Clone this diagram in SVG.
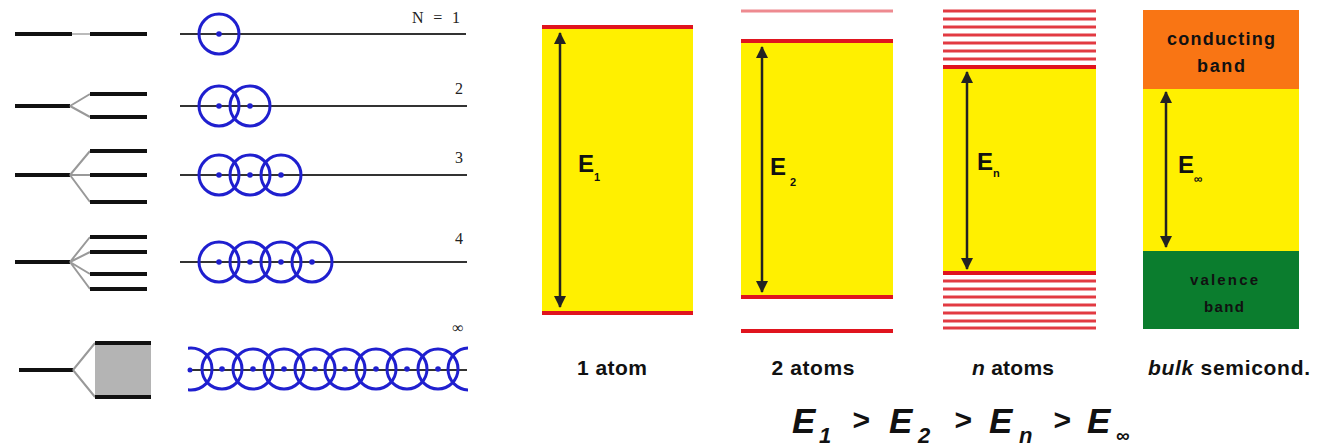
<svg xmlns="http://www.w3.org/2000/svg" width="1324" height="447" viewBox="0 0 1324 447">
<style>
.lv{stroke:#111;stroke-width:4;fill:none}
.br{stroke:#999;stroke-width:2;fill:none}
.ax{stroke:#333;stroke-width:2}
.at{fill:none;stroke:#1f1fcf;stroke-width:3}
.dt{fill:#1f1fcf}
.num{font-family:"Liberation Serif",serif;font-size:16px;fill:#222}
.red{stroke:#e0141e;stroke-width:4}
.str{stroke:#e23a42;stroke-width:3}
.yel{fill:#fff000}
.lab{font-family:"Liberation Sans",Arial,sans-serif;font-weight:bold;fill:#111}
.arr{stroke:#222;stroke-width:2.5;fill:none}
</style>
<defs>
<marker id="ah" viewBox="0 0 12 12" refX="11" refY="6" markerWidth="12" markerHeight="12" markerUnits="userSpaceOnUse" orient="auto-start-reverse">
<path d="M0,0 L12,6 L0,12 z" fill="#222"/>
</marker>
<clipPath id="cl"><rect x="188" y="340" width="280" height="60"/></clipPath>
<g id="c"><circle r="20" class="at"/><circle r="2.8" class="dt"/></g>
</defs>
<rect width="1324" height="447" fill="#fff"/>

<g id="row1">
<line class="lv" x1="15" y1="34" x2="72" y2="34"/>
<line x1="72" y1="34" x2="90" y2="34" stroke="#bbb" stroke-width="2"/>
<line class="lv" x1="90" y1="34" x2="147" y2="34"/>
<line class="ax" x1="180" y1="34" x2="466" y2="34"/>
<use href="#c" x="219" y="34"/>
<text class="num" x="460" y="23" text-anchor="end" textLength="48">N = 1</text>
</g>

<g id="row2">
<line class="lv" x1="15" y1="106" x2="70" y2="106"/>
<path class="br" d="M70,106 L90,94 M70,106 L90,117"/>
<line class="lv" x1="90" y1="94" x2="147" y2="94"/>
<line class="lv" x1="90" y1="117" x2="147" y2="117"/>
<line class="ax" x1="180" y1="106" x2="467" y2="106"/>
<use href="#c" x="219" y="106"/>
<use href="#c" x="250" y="106"/>
<text class="num" x="463" y="94" text-anchor="end">2</text>
</g>

<g id="row3">
<line class="lv" x1="15" y1="175" x2="70" y2="175"/>
<path class="br" d="M70,175 L90,151 M70,175 L90,175 M70,175 L90,202"/>
<line class="lv" x1="90" y1="151" x2="147" y2="151"/>
<line class="lv" x1="90" y1="175" x2="147" y2="175"/>
<line class="lv" x1="90" y1="202" x2="147" y2="202"/>
<line class="ax" x1="180" y1="175" x2="467" y2="175"/>
<use href="#c" x="219" y="175"/>
<use href="#c" x="250" y="175"/>
<use href="#c" x="281" y="175"/>
<text class="num" x="463" y="163" text-anchor="end">3</text>
</g>

<g id="row4">
<line class="lv" x1="15" y1="262" x2="70" y2="262"/>
<path class="br" d="M70,262 L90,237 M70,262 L90,252 M70,262 L90,274 M70,262 L90,289"/>
<line class="lv" x1="90" y1="237" x2="147" y2="237"/>
<line class="lv" x1="90" y1="252" x2="147" y2="252"/>
<line class="lv" x1="90" y1="274" x2="147" y2="274"/>
<line class="lv" x1="90" y1="289" x2="147" y2="289"/>
<line class="ax" x1="180" y1="262" x2="467" y2="262"/>
<use href="#c" x="219" y="262"/>
<use href="#c" x="250" y="262"/>
<use href="#c" x="281" y="262"/>
<use href="#c" x="312" y="262"/>
<text class="num" x="463" y="244" text-anchor="end">4</text>
</g>

<g id="row5">
<line class="lv" x1="19" y1="370" x2="73" y2="370"/>
<path class="br" d="M73,370 L95,343 M73,370 L95,397"/>
<rect x="95" y="343" width="56" height="54" fill="#b4b4b4"/>
<line class="lv" x1="95" y1="343" x2="151" y2="343"/>
<line class="lv" x1="95" y1="397" x2="151" y2="397"/>
<line class="ax" x1="190" y1="370" x2="467" y2="370"/>
<circle cx="190" cy="370" r="2.5" class="dt"/>
<g clip-path="url(#cl)">
<circle cx="191" cy="369" r="21" class="at"/>
<use href="#c" x="222" y="369"/>
<use href="#c" x="253" y="369"/>
<use href="#c" x="284" y="369"/>
<use href="#c" x="315" y="369"/>
<use href="#c" x="345" y="369"/>
<use href="#c" x="376" y="369"/>
<use href="#c" x="407" y="369"/>
<use href="#c" x="438" y="369"/>
<circle cx="469" cy="369" r="21" class="at"/>
</g>
<text class="num" x="458" y="333" text-anchor="middle" font-size="15">∞</text>
</g>

<g id="atom1">
<rect class="yel" x="542" y="27" width="151" height="286"/>
<line class="red" x1="542" y1="27" x2="693" y2="27"/>
<line class="red" x1="542" y1="313" x2="693" y2="313"/>
<text class="lab" x="578" y="172" font-size="24">E<tspan font-size="11" dy="9">1</tspan></text>
<text class="lab" x="612" y="375" font-size="21" text-anchor="middle" textLength="70">1 atom</text>
</g>

<g id="atoms2">
<line x1="741" y1="11" x2="893" y2="11" stroke="#ee8a90" stroke-width="3"/>
<rect class="yel" x="741" y="41" width="152" height="256"/>
<line class="red" x1="741" y1="41" x2="893" y2="41"/>
<line class="red" x1="741" y1="297" x2="893" y2="297"/>
<line class="red" x1="741" y1="331" x2="893" y2="331"/>
<text class="lab" x="770" y="175" font-size="24">E<tspan font-size="11" dx="4" dy="11">2</tspan></text>
<text class="lab" x="813" y="375" font-size="21" text-anchor="middle" textLength="83">2 atoms</text>
</g>

<g id="atomsn">
<g class="str">
<line x1="943" y1="11" x2="1096" y2="11"/><line x1="943" y1="19" x2="1096" y2="19"/>
<line x1="943" y1="27" x2="1096" y2="27"/><line x1="943" y1="35" x2="1096" y2="35"/>
<line x1="943" y1="43" x2="1096" y2="43"/><line x1="943" y1="51" x2="1096" y2="51"/>
<line x1="943" y1="59" x2="1096" y2="59"/>
</g>
<rect class="yel" x="943" y="67" width="153" height="206"/>
<line class="red" x1="943" y1="67" x2="1096" y2="67"/>
<line class="red" x1="943" y1="273" x2="1096" y2="273"/>
<g class="str">
<line x1="943" y1="281" x2="1096" y2="281"/><line x1="943" y1="289" x2="1096" y2="289"/>
<line x1="943" y1="297" x2="1096" y2="297"/><line x1="943" y1="305" x2="1096" y2="305"/>
<line x1="943" y1="313" x2="1096" y2="313"/><line x1="943" y1="321" x2="1096" y2="321"/>
<line x1="943" y1="328" x2="1096" y2="328"/>
</g>
<text class="lab" x="977" y="170" font-size="24">E<tspan font-size="11" dy="7">n</tspan></text>
<text class="lab" x="1013" y="375" font-size="21" text-anchor="middle" textLength="82"><tspan font-style="italic">n</tspan> atoms</text>
</g>

<g id="bulk">
<rect x="1143" y="10" width="156" height="79" fill="#f97514"/>
<rect class="yel" x="1143" y="89" width="156" height="162"/>
<rect x="1143" y="251" width="156" height="78" fill="#0b7d2e"/>
<text class="lab" x="1221" y="45" font-size="18" text-anchor="middle" textLength="108">conducting</text>
<text class="lab" x="1221" y="72" font-size="18" text-anchor="middle" textLength="48">band</text>
<text class="lab" x="1224" y="285" font-size="15" text-anchor="middle" textLength="68">valence</text>
<text class="lab" x="1224" y="312" font-size="15" text-anchor="middle" textLength="40">band</text>
<text class="lab" x="1178" y="173" font-size="24">E<tspan font-size="12" dy="10">∞</tspan></text>
<text class="lab" x="1229" y="375" font-size="21" text-anchor="middle" textLength="162"><tspan font-style="italic">bulk</tspan> semicond.</text>
</g>

<g id="formula" class="lab" font-style="italic" font-size="35">
<text x="792" y="433">E</text><text x="819" y="443" font-size="22">1</text>
<text x="852" y="430" font-size="30">&gt;</text>
<text x="889" y="433">E</text><text x="918" y="443" font-size="22">2</text>
<text x="954" y="430" font-size="30">&gt;</text>
<text x="989" y="433">E</text><text x="1019" y="443" font-size="22">n</text>
<text x="1053" y="430" font-size="30">&gt;</text>
<text x="1087" y="433">E</text><text x="1116" y="442" font-size="19" font-style="normal">∞</text>
</g>

<g id="connectors">
<line class="arr" x1="560" y1="33" x2="560" y2="307" marker-start="url(#ah)" marker-end="url(#ah)"/>
<line class="arr" x1="762" y1="47" x2="762" y2="292" marker-start="url(#ah)" marker-end="url(#ah)"/>
<line class="arr" x1="967" y1="72" x2="967" y2="269" marker-start="url(#ah)" marker-end="url(#ah)"/>
<line class="arr" x1="1166" y1="92" x2="1166" y2="247" marker-start="url(#ah)" marker-end="url(#ah)"/>
</g>
</svg>
